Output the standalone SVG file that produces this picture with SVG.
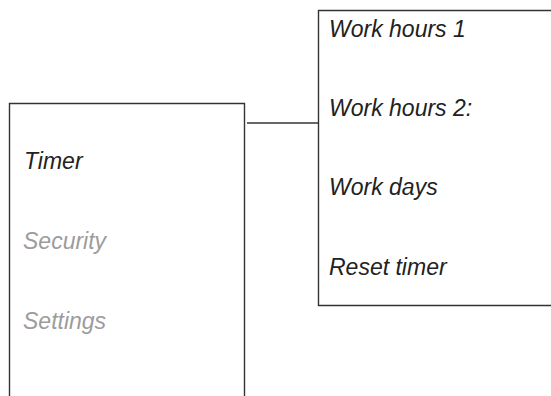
<svg xmlns="http://www.w3.org/2000/svg" width="551" height="396" viewBox="0 0 551 396">
<style>
.box{fill:none;stroke:#333;stroke-width:1.4}
.t{font-family:"Liberation Sans",Arial,sans-serif;font-style:italic;font-size:23px;fill:#222}
.g{fill:#9c9c9c}
.c{stroke:#333;stroke-width:1.4;fill:none}
</style>
<rect width="551" height="396" fill="#fff"/>
<g id="menu">
<path class="box" d="M9.5,400 V103.5 H244.5 V400"/>
<text class="t" x="24" y="169">Timer</text>
<text class="t g" x="23" y="249">Security</text>
<text class="t g" x="23" y="329">Settings</text>
</g>
<g id="submenu">
<path class="box" d="M560,10.5 H318.5 V305.5 H560"/>
<text class="t" x="329" y="37">Work hours 1</text>
<text class="t" x="329" y="116">Work hours 2:</text>
<text class="t" x="329" y="195">Work days</text>
<text class="t" x="329" y="275">Reset timer</text>
</g>
<g id="connectors">
<line class="c" x1="247" y1="123" x2="318" y2="123"/>
</g>
</svg>
